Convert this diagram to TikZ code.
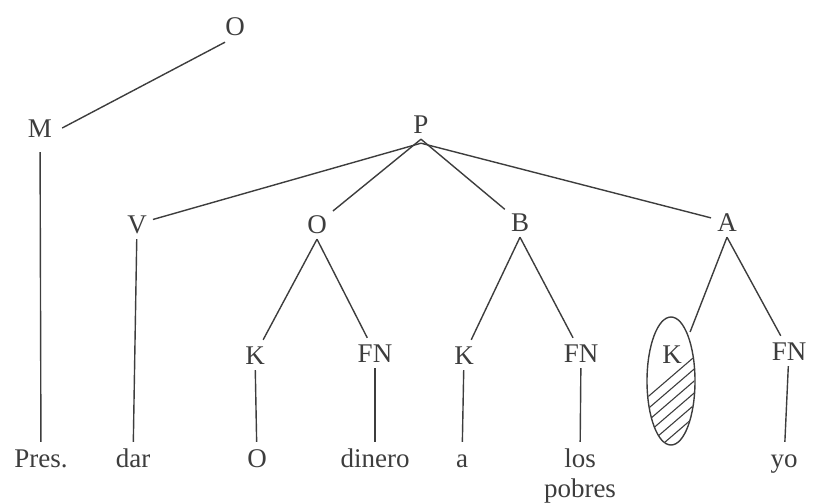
\documentclass[tikz,border=0pt]{standalone}
\usepackage{fontspec}
\setmainfont{Liberation Serif}
\usetikzlibrary{shapes.geometric}
\definecolor{ink}{gray}{0.24}
\begin{document}
\begin{tikzpicture}[x=1pt,y=-1pt,
  lab/.style={font=\fontsize{27}{31}\selectfont, text=ink, text height=18pt, text depth=0pt, inner sep=6pt},
  leaf/.style={font=\fontsize{27}{31}\selectfont, text=ink, text height=18pt, text depth=6pt, inner xsep=3pt, inner ysep=7pt, anchor=base},
  edge/.style={draw=ink, line width=1.4pt},
  hatch/.style={draw=ink, line width=1.1pt}]
\useasboundingbox (0,0) rectangle (816,503);

% upper part: sentence and modality
\node[lab] (top) at (235,27) {O};
\node[lab] (m) at (40,128) {M};
\node[lab] (p) at (421,124) {P};

% cases
\node[lab] (v) at (137,224) {V};
\node[lab] (o) at (317,224) {O};
\node[lab] (b) at (520,222) {B};
\node[lab] (a) at (727,222) {A};

\node[lab] (k1) at (255,355) {K};
\node[lab] (fn1) at (375,353) {FN};
\node[lab] (k2) at (464,355) {K};
\node[lab] (fn2) at (581,353) {FN};
\node[lab] (k3) at (672,354) {K};
\node[lab] (fn3) at (789,351) {FN};

% empty case marker, partly hatched
\node[ellipse, draw=ink, line width=1.4pt, minimum width=48pt, minimum height=128pt, inner sep=0pt] (kell) at (671,381) {};
\begin{scope}
  \clip (671,381) ellipse [x radius=23.3pt, y radius=63.3pt];
  \foreach \k in {0,...,6}
    \draw[hatch] (630,{412.2+12*\k}) -- (705,{347.7+12*\k});
\end{scope}

% terminal words
\node[leaf] (pres) at (41,467) {Pres.};
\node[leaf] (dar) at (133,467) {dar};
\node[leaf] (oo) at (257,467) {O};
\node[leaf] (dinero) at (375,467) {dinero};
\node[leaf] (aa) at (462,467) {a};
\node[leaf] (los) at (580,467) {los};
\node[leaf] (pobres) at (580,497) {pobres};
\node[leaf] (yo) at (784,467) {yo};

% connectors
\draw[edge] ([xshift=-10pt]top.south) -- ([xshift=4pt]m.east);
\draw[edge, shorten <=9pt] (m) -- (pres);

\draw[edge] ([yshift=-4pt]p.south) -- (v);
\draw[edge] (p.south) -- (o);
\draw[edge] (p.south) -- (b);
\draw[edge] ([yshift=-4pt]p.south) -- (a);

\draw[edge] (v) -- (dar);
\draw[edge] (o.south) -- (k1);
\draw[edge] (o.south) -- (fn1);
\draw[edge] (b.south) -- (k2);
\draw[edge] (b.south) -- (fn2);
\draw[edge, shorten >=4pt] (a.south) -- (kell);
\draw[edge] (a.south) -- (fn3);

\draw[edge] (k1) -- (oo);
\draw[edge] (fn1) -- (dinero);
\draw[edge] (k2) -- (aa);
\draw[edge] (fn2) -- (los);
\draw[edge] (fn3) -- (yo);
\end{tikzpicture}
\end{document}
